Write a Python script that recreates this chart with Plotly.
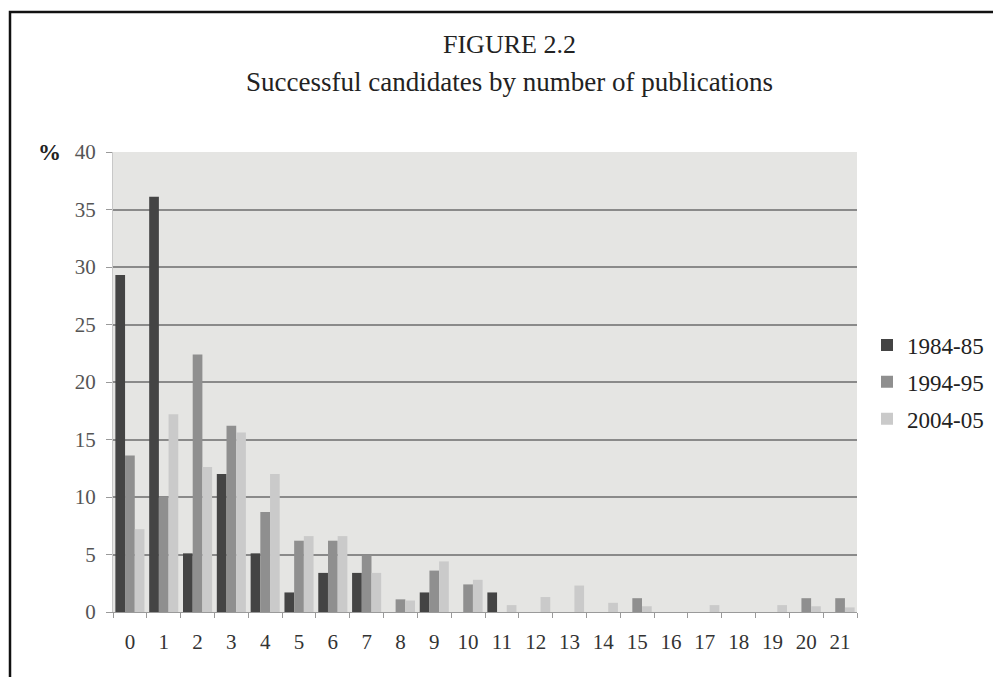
import plotly.graph_objects as go

categories = [str(i) for i in range(22)]
series_names = ["1984-85", "1994-95", "2004-05"]
v1984 = [29.3, 36.1, 5.1, 12.0, 5.1, 1.7, 3.4, 3.4, 0, 1.7, 0, 1.7, 0, 0, 0, 0, 0, 0, 0, 0, 0, 0]
v1994 = [13.6, 10.0, 22.4, 16.2, 8.7, 6.2, 6.2, 4.9, 1.1, 3.6, 2.4, 0, 0, 0, 0, 1.2, 0, 0, 0, 0, 1.2, 1.2]
v2004 = [7.2, 17.2, 12.6, 15.6, 12.0, 6.6, 6.6, 3.4, 1.0, 4.4, 2.8, 0.6, 1.3, 2.3, 0.8, 0.5, 0, 0.6, 0, 0.6, 0.5, 0.4]
colors = ["#444444", "#8f8f8f", "#cacaca"]
y_ticks = [0, 5, 10, 15, 20, 25, 30, 35, 40]

# page has an 8px body margin; figure coords = screen coords - 8
OFF = 8
W, H = 1001 - OFF, 677 - OFF
L = 113 - OFF
T = 152 - OFF
R = W - (857 - OFF)
B = H - (612 - OFF)
pw, ph = W - L - R, H - T - B


def px(x):
    return (x - OFF - L) / pw


def py(y):
    return (H - B - (y - OFF)) / ph


font = "Liberation Serif, Times New Roman, serif"

fig = go.Figure()
for name, vals, col in zip(series_names, [v1984, v1994, v2004], colors):
    fig.add_trace(go.Bar(x=categories, y=vals, name=name, legendgroup=name,
                         marker=dict(color=col, line=dict(width=0))))

fig.update_layout(
    width=W, height=H,
    margin=dict(l=L, r=R, t=T, b=B),
    paper_bgcolor="white",
    plot_bgcolor="#e5e5e3",
    barmode="group",
    bargap=0.14,
    bargroupgap=0.0,
    font=dict(family=font, color="#333333", size=21),
    legend=dict(
        x=px(867), y=0.5, xanchor="left", yanchor="middle",
        font=dict(family=font, size=23, color="#222222"),
        itemwidth=30, tracegroupgap=4, bgcolor="rgba(0,0,0,0)",
    ),
    xaxis=dict(
        type="category", tickson="boundaries", ticks="outside", ticklen=5,
        tickcolor="#9a9a9a", showline=True, linecolor="#9a9a9a", linewidth=1,
        showgrid=False, ticklabelstandoff=11,
        tickfont=dict(family=font, size=21, color="#333333"),
    ),
    yaxis=dict(
        range=[0, 40], tickvals=y_ticks, ticks="outside", ticklen=6,
        tickcolor="#9a9a9a", showline=True, linecolor="#c8c8c8", linewidth=1,
        showgrid=True, gridcolor="#8a8a8a", gridwidth=1.5, zeroline=False,
        ticklabelstandoff=6,
        tickfont=dict(family=font, size=21, color="#555555"),
    ),
    showlegend=True,
)

fig.add_annotation(text="FIGURE 2.2", x=px(509), y=py(45), xref="paper", yref="paper",
                   xanchor="center", yanchor="middle",
                   showarrow=False, font=dict(family=font, size=26, color="#222222"))
fig.add_annotation(text="Successful candidates by number of publications", x=px(509), y=py(82),
                   xref="paper", yref="paper", xanchor="center", yanchor="middle", showarrow=False,
                   font=dict(family=font, size=27, color="#222222"))
fig.add_annotation(text="<b>%</b>", x=px(49), y=py(152), xref="paper", yref="paper",
                   xanchor="center", yanchor="middle",
                   showarrow=False, font=dict(family=font, size=23, color="#222222"))

fig.add_shape(type="rect", xref="paper", yref="paper",
              x0=px(10), x1=px(1015), y0=py(720), y1=py(12),
              line=dict(color="#111111", width=2.5), fillcolor="rgba(0,0,0,0)", layer="below")

fig.write_html("out.html")
